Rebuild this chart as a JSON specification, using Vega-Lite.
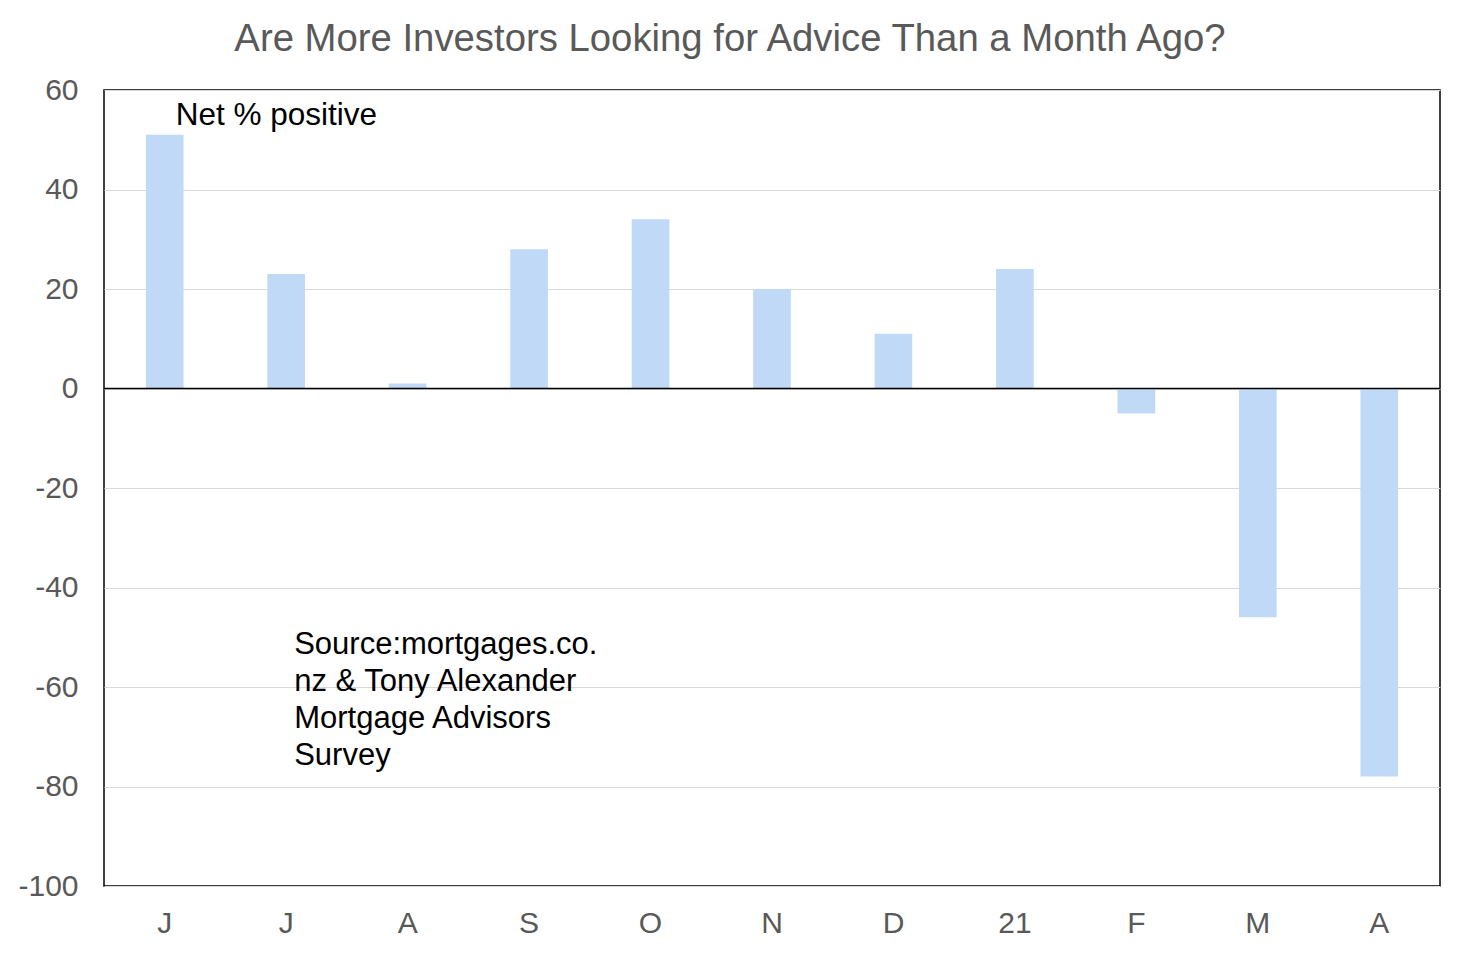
{
  "$schema": "https://vega.github.io/schema/vega-lite/v6.json",
  "autosize": {"type": "none"},
  "width": 1336,
  "height": 796,
  "padding": {"left": 104, "top": 90, "right": 22, "bottom": 68},
  "background": "white",
  "title": {
    "text": "Are More Investors Looking for Advice Than a Month Ago?",
    "fontSize": 38.3,
    "font": "Liberation Sans",
    "fontWeight": "normal",
    "color": "#595959",
    "anchor": "middle",
    "dx": -42,
    "offset": 16
  },
  "datasets": {
    "survey": [
      {"key": "J|1", "net": 51},
      {"key": "J|2", "net": 23},
      {"key": "A|3", "net": 1},
      {"key": "S|4", "net": 28},
      {"key": "O|5", "net": 34},
      {"key": "N|6", "net": 20},
      {"key": "D|7", "net": 11},
      {"key": "21|8", "net": 24},
      {"key": "F|9", "net": -5},
      {"key": "M|10", "net": -46},
      {"key": "A|11", "net": -78}
    ]
  },
  "encoding": {
    "x": {
      "field": "key",
      "type": "nominal",
      "sort": null,
      "scale": {"paddingInner": 0, "paddingOuter": 0},
      "axis": {
        "title": null,
        "labelExpr": "split(datum.value, '|')[0]",
        "labelAngle": 0,
        "ticks": false,
        "domain": false,
        "labelPadding": 22,
        "labelFontSize": 30,
        "labelColor": "#595959",
        "labelFont": "Liberation Sans"
      }
    }
  },
  "layer": [
    {
      "data": {"name": "survey"},
      "mark": {"type": "bar", "color": "#bfd9f6", "width": {"band": 0.31}},
      "encoding": {
        "y": {
          "field": "net",
          "type": "quantitative",
          "scale": {"domain": [-100, 60], "nice": false},
          "axis": {
            "title": null,
            "values": [-100, -80, -60, -40, -20, 0, 20, 40, 60],
            "labelExpr": "toString(datum.value)",
            "ticks": false,
            "domain": false,
            "grid": true,
            "gridColor": "#d9d9d9",
            "gridWidth": 1.2,
            "labelPadding": 26,
            "labelFontSize": 30,
            "labelColor": "#595959",
            "labelFont": "Liberation Sans"
          }
        }
      }
    },
    {
      "data": {"values": [{"zero": 0}]},
      "mark": {"type": "rule", "color": "black", "strokeWidth": 1.5},
      "encoding": {
        "x": null,
        "y": {"field": "zero", "type": "quantitative"}
      }
    },
    {
      "data": {"values": [{"key": "J|1", "y": 53, "label": "Net % positive"}]},
      "mark": {
        "type": "text",
        "align": "left",
        "baseline": "alphabetic",
        "font": "Liberation Sans",
        "fontSize": 31.5,
        "color": "black",
        "dx": 11
      },
      "encoding": {
        "y": {"field": "y", "type": "quantitative"},
        "text": {"field": "label"}
      }
    },
    {
      "data": {"values": [{"key": "J|2", "y": -53.4, "label": ["Source:mortgages.co.", "nz & Tony Alexander", "Mortgage Advisors", "Survey"]}]},
      "mark": {
        "type": "text",
        "align": "left",
        "baseline": "alphabetic",
        "font": "Liberation Sans",
        "fontSize": 31,
        "color": "black",
        "lineHeight": 37,
        "dx": 8
      },
      "encoding": {
        "y": {"field": "y", "type": "quantitative"},
        "text": {"field": "label"}
      }
    }
  ],
  "config": {
    "view": {"stroke": "black", "strokeWidth": 1.5},
    "font": "Liberation Sans"
  }
}
